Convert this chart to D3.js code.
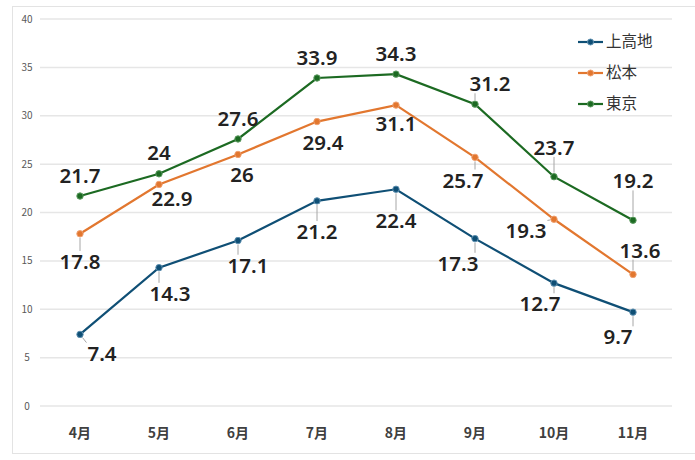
<!DOCTYPE html>
<html>
<head>
<meta charset="utf-8">
<script src="https://cdn.jsdelivr.net/npm/d3@7"></script>
<style>
  body { margin: 0; background: #fff; }
  svg { display: block; font-family: "Noto Sans CJK JP", "Noto Sans", sans-serif; }
</style>
</head>
<body>
<svg width="695" height="460"></svg>
<script>
// data
var months = ["4月", "5月", "6月", "7月", "8月", "9月", "10月", "11月"];
var kamikochi = [7.4, 14.3, 17.1, 21.2, 22.4, 17.3, 12.7, 9.7];
var matsumoto = [17.8, 22.9, 26, 29.4, 31.1, 25.7, 19.3, 13.6];
var tokyo = [21.7, 24, 27.6, 33.9, 34.3, 31.2, 23.7, 19.2];
var seriesNames = ["上高地", "松本", "東京"];
var yTicks = [0, 5, 10, 15, 20, 25, 30, 35, 40];

// label offsets from the point (px) and which labels get a leader line
var labelOffsets = [
    [[22, 19], [11, 26], [10, 25], [0, 31], [0, 32], [-17, 25], [-14, 21], [-15, 25]],
    [[0, 28], [13, 14], [4, 20], [6, 21], [0, 19], [-12, 23], [-28, 12], [7, -24]],
    [[0, -20], [0, -21], [0, -20], [0, -20], [0, -20], [15, -20], [0, -29], [0, -39]]
];
var leaders = [
    [1, 1, 1, 1, 1, 1, 1, 1],
    [1, 0, 0, 0, 0, 1, 1, 1],
    [0, 0, 0, 0, 0, 1, 1, 1]
];
var colors = ["#0f4f75", "#e2772f", "#1c6a22"];
var ringColors = ["#5d8fb0", "#f0a070", "#5b9a5f"];

var svg = d3.select("svg");

// outer frame
svg.append("rect")
    .attr("x", 12.5).attr("y", 6.5)
    .attr("width", 700).attr("height", 447)
    .attr("fill", "none")
    .attr("stroke", "#e3e3e3");

var x = d3.scaleBand().domain(months).range([40.5, 672.5]);
var y = d3.scaleLinear().domain([0, 40]).range([406, 19]);

// grid
svg.selectAll(".grid")
    .data(yTicks)
    .enter().append("line")
    .attr("x1", 40).attr("x2", 672)
    .attr("y1", function (d) { return y(d); })
    .attr("y2", function (d) { return y(d); })
    .attr("stroke", "#e6e6e6")
    .attr("stroke-width", 1.5);

// y labels
svg.selectAll(".ytick")
    .data(yTicks)
    .enter().append("text")
    .attr("x", 27)
    .attr("y", function (d) { return y(d) + 3.5; })
    .attr("text-anchor", "middle")
    .attr("font-size", 10)
    .attr("fill", "#595959")
    .text(function (d) { return d; });

// x labels
svg.selectAll(".xtick")
    .data(months)
    .enter().append("text")
    .attr("x", function (d) { return x(d) + x.bandwidth() / 2; })
    .attr("y", 438)
    .attr("text-anchor", "middle")
    .attr("font-size", 14)
    .attr("font-weight", "bold")
    .attr("fill", "#404040")
    .text(function (d) { return d; });

var allSeries = [kamikochi, matsumoto, tokyo];
var cx = function (i) { return x(months[i]) + x.bandwidth() / 2; };

var line = d3.line()
    .x(function (d, i) { return cx(i); })
    .y(function (d) { return y(d); });

var leaderG = svg.append("g");

allSeries.forEach(function (vals, s) {
    svg.append("path")
        .datum(vals)
        .attr("d", line)
        .attr("fill", "none")
        .attr("stroke", colors[s])
        .attr("stroke-width", 2.2);

    svg.selectAll(".pt" + s)
        .data(vals)
        .enter().append("circle")
        .attr("cx", function (d, i) { return cx(i); })
        .attr("cy", function (d) { return y(d); })
        .attr("r", 3.2)
        .attr("fill", colors[s])
        .attr("stroke", ringColors[s])
        .attr("stroke-width", 1);
});

// data labels with leader lines
allSeries.forEach(function (vals, s) {
    vals.forEach(function (v, i) {
        var px = cx(i), py = y(v);
        var off = labelOffsets[s][i];
        var t = svg.append("text")
            .attr("x", px + off[0])
            .attr("y", py + off[1])
            .attr("dy", "0.35em")
            .attr("text-anchor", "middle")
            .attr("font-family", "'Noto Sans', sans-serif")
            .attr("font-size", 20.5)
            .attr("font-weight", 600)
            .attr("fill", "#222")
            .text(v);
        if (!leaders[s][i]) return;
        var b = t.node().getBBox();
        var bx0 = b.x - 1, bx1 = b.x + b.width + 1, by0 = b.y + 4, by1 = b.y + b.height - 4;
        var nx = Math.max(bx0, Math.min(px, bx1));
        var ny = Math.max(by0, Math.min(py, by1));
        var dx = nx - px, dy = ny - py;
        var dist = Math.sqrt(dx * dx + dy * dy);
        if (dist > 6) {
            leaderG.append("line")
                .attr("x1", px + dx / dist * 4)
                .attr("y1", py + dy / dist * 4)
                .attr("x2", nx)
                .attr("y2", ny)
                .attr("stroke", "#a6a6a6")
                .attr("stroke-width", 1);
        }
    });
});

// legend
var legend = svg.append("g").attr("transform", "translate(578,42)");
seriesNames.forEach(function (name, s) {
    var g = legend.append("g").attr("transform", "translate(0," + s * 31 + ")");
    g.append("line").attr("x1", 0).attr("x2", 25)
        .attr("stroke", colors[s]).attr("stroke-width", 2.2);
    g.append("circle").attr("cx", 12.5).attr("r", 3)
        .attr("fill", colors[s]).attr("stroke", ringColors[s]);
    g.append("text").attr("x", 28).attr("dy", "0.35em")
        .attr("font-size", 15.5)
        .attr("fill", "#333")
        .text(name);
});
</script>
</body>
</html>
